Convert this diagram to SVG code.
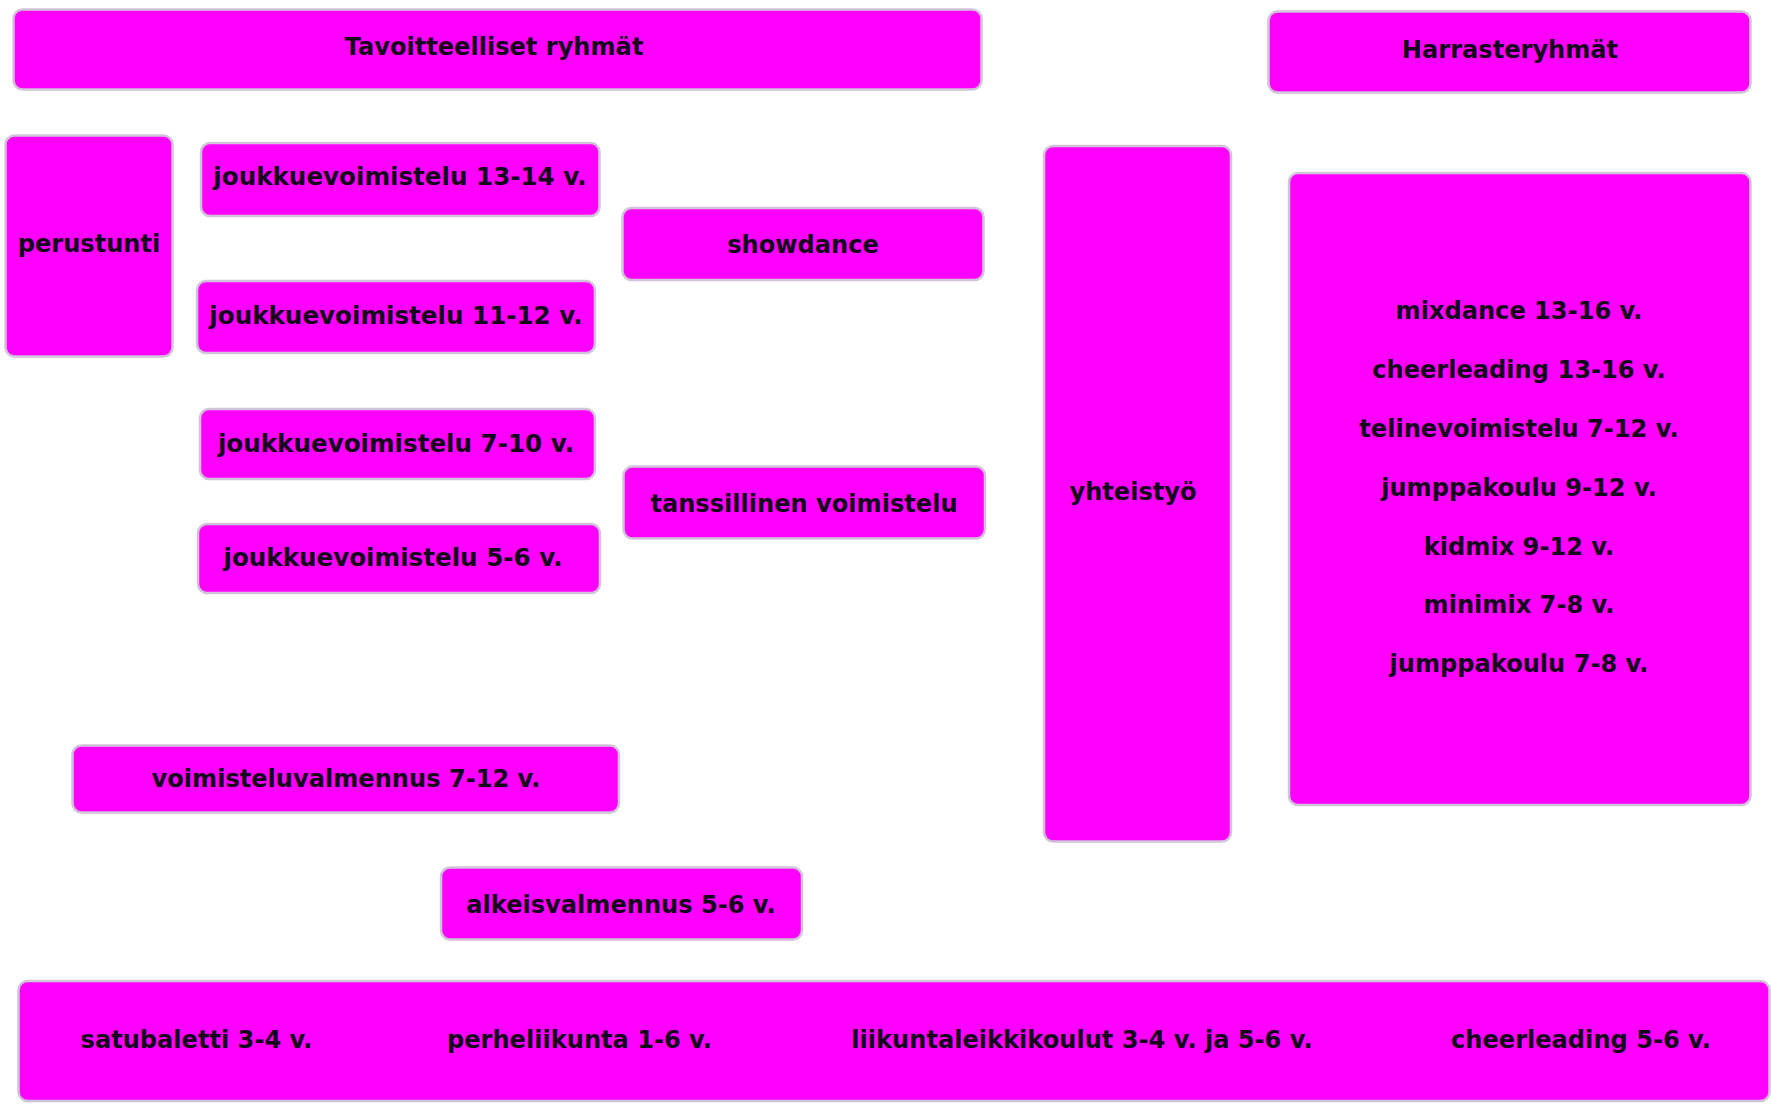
<svg xmlns="http://www.w3.org/2000/svg" width="1771" height="1104" viewBox="0 0 1771 1104">
<style>
.box{fill:#ff00ff;stroke:#d2c4d8;stroke-width:2.5}
.t{font-family:"DejaVu Sans",Verdana,sans-serif;font-weight:bold;font-size:24.1px;fill:#14061a;text-anchor:middle;dominant-baseline:central}
.j{font-size:24.6px}
</style>
<rect width="1771" height="1104" fill="#ffffff"/>
<g id="connectors"></g>
<g id="tavoitteelliset"><rect class="box" x="13.5" y="9.5" width="968" height="80" rx="9"/><text class="t" x="494" y="47">Tavoitteelliset ryhmät</text></g>
<g id="harrasteryhmat"><rect class="box" x="1268.5" y="11.5" width="482" height="81" rx="9"/><text class="t" x="1510" y="50">Harrasteryhmät</text></g>
<g id="perustunti"><rect class="box" x="5.5" y="135.5" width="167" height="221" rx="9"/><text class="t" x="89" y="244">perustunti</text></g>
<g id="jv1314"><rect class="box" x="201" y="143" width="398.5" height="73" rx="9"/><text class="t j" x="400" y="176">joukkuevoimistelu 13-14 v.</text></g>
<g id="jv1112"><rect class="box" x="197" y="281" width="398" height="72" rx="9"/><text class="t j" x="396" y="315">joukkuevoimistelu 11-12 v.</text></g>
<g id="showdance"><rect class="box" x="622.5" y="208" width="361" height="72" rx="9"/><text class="t" x="803" y="245">showdance</text></g>
<g id="jv710"><rect class="box" x="200" y="409" width="395" height="70" rx="9"/><text class="t j" x="396" y="443">joukkuevoimistelu 7-10 v.</text></g>
<g id="tanssillinen"><rect class="box" x="623.5" y="466.5" width="361.5" height="72" rx="9"/><text class="t" x="804" y="504">tanssillinen voimistelu</text></g>
<g id="jv56"><rect class="box" x="198" y="524" width="402" height="69" rx="9"/><text class="t j" x="393" y="557">joukkuevoimistelu 5-6 v.</text></g>
<g id="voimisteluvalmennus"><rect class="box" x="72.5" y="745.5" width="546.5" height="67" rx="9"/><text class="t" x="346" y="779">voimisteluvalmennus 7-12 v.</text></g>
<g id="alkeisvalmennus"><rect class="box" x="441" y="867.5" width="361" height="72" rx="9"/><text class="t" x="621" y="905">alkeisvalmennus 5-6 v.</text></g>
<g id="yhteistyo"><rect class="box" x="1044" y="146" width="187" height="695.5" rx="9"/><text class="t" x="1133" y="492">yhteistyö</text></g>
<g id="harraste-lista"><rect class="box" x="1289" y="173" width="461.5" height="632" rx="9"/>
<text class="t" x="1519" y="311">mixdance 13-16 v.</text>
<text class="t" x="1519" y="370">cheerleading 13-16 v.</text>
<text class="t" x="1519" y="429">telinevoimistelu 7-12 v.</text>
<text class="t" x="1519" y="488">jumppakoulu 9-12 v.</text>
<text class="t" x="1519" y="547">kidmix 9-12 v.</text>
<text class="t" x="1519" y="605">minimix 7-8 v.</text>
<text class="t" x="1519" y="664">jumppakoulu 7-8 v.</text>
</g>
<g id="perusryhmat"><rect class="box" x="18.5" y="981" width="1751" height="120" rx="9"/>
<text class="t" x="196.5" y="1040">satubaletti 3-4 v.</text>
<text class="t" x="579.5" y="1040">perheliikunta 1-6 v.</text>
<text class="t" x="1082" y="1040">liikuntaleikkikoulut 3-4 v. ja 5-6 v.</text>
<text class="t" x="1581" y="1040">cheerleading 5-6 v.</text>
</g>
</svg>
